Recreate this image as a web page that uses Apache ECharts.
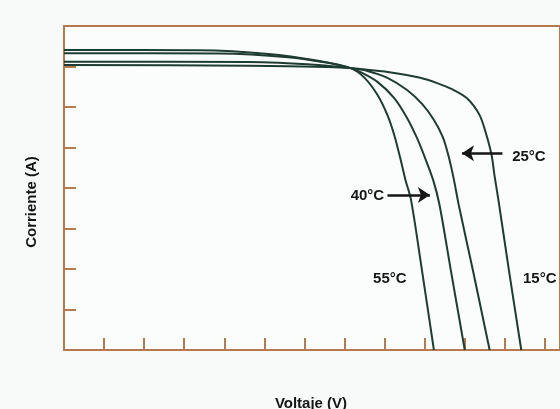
<!DOCTYPE html>
<html>
<head>
<meta charset="utf-8">
<script src="https://cdn.jsdelivr.net/npm/echarts@6/dist/echarts.min.js"></script>
<style>
html,body{margin:0;padding:0;background:#f7faf9;}
#chart{width:560px;height:409px;}
</style>
</head>
<body>
<div id="chart"></div>
<script>
// Temperature series (voltage V, current A)
const temps = ['55°C', '40°C', '25°C', '15°C'];
const curve55 = [[0,7.41],[3.37,7.40],[5.10,7.31],[6.34,7.14],[7.15,6.96],[7.50,6.72],[7.82,6.30],[8.07,5.80],[8.24,5.31],[8.39,4.74],[8.52,4.20],[8.66,3.70],[8.93,1.98],[9.23,0]];
const curve40 = [[0,7.33],[3.86,7.32],[5.59,7.23],[6.58,7.09],[7.15,6.96],[7.40,6.86],[7.82,6.62],[8.24,6.22],[8.56,5.73],[8.81,5.23],[9.01,4.74],[9.21,4.20],[9.37,3.58],[9.65,1.98],[10.0,0]];
const curve25 = [[0,7.12],[4.60,7.11],[6.34,7.04],[7.15,6.96],[7.57,6.89],[8.07,6.72],[8.56,6.42],[8.94,6.07],[9.23,5.68],[9.45,5.26],[9.60,4.77],[9.73,4.20],[9.85,3.58],[10.20,1.98],[10.62,0]];
const curve15 = [[0,7.04],[4.60,7.02],[6.58,6.99],[7.15,6.96],[8.24,6.84],[8.89,6.72],[9.31,6.59],[9.68,6.44],[10.05,6.22],[10.37,5.80],[10.54,5.31],[10.67,4.81],[10.74,4.32],[10.84,3.70],[11.10,1.98],[11.41,0]];
const xAxisName = 'Voltaje (V)';
const yAxisName = 'Corriente (A)';

const brown = '#b7794e';
const lineColor = '#1f3c33';
const font = 'Liberation Sans, Arial, sans-serif';

function labelPoint(text, coord) {
  return {
    coord: coord, symbol: 'circle', symbolSize: 0,
    itemStyle: {color: 'rgba(0,0,0,0)'},
    label: {show: true, position: 'inside', formatter: text, color: '#151515',
            fontWeight: 'bold', fontSize: 15, fontFamily: font}
  };
}
function arrow(from, to) {
  return [{coord: from}, {coord: to}];
}
const arrowStyle = {
  silent: true, symbol: ['none', 'arrow'], symbolSize: 12,
  lineStyle: {color: '#151515', width: 2.5, type: 'solid'},
  label: {show: false}, animation: false
};

const curves = [curve55, curve40, curve25, curve15];
const labelCoords = [[8.13,1.75],[7.57,3.80],[11.6,4.77],[11.87,1.75]];
const arrows = [null, arrow([8.07,3.83],[9.13,3.83]), arrow([10.94,4.86],[9.93,4.86]), null];

const series = curves.map((c, i) => {
  const s = {
    name: temps[i], type: 'line', data: c, showSymbol: false,
    smooth: 0.3,
    lineStyle: {color: lineColor, width: 2}, itemStyle: {color: lineColor},
    animation: false,
    markPoint: {silent: true, animation: false, data: [labelPoint(temps[i], labelCoords[i])]}
  };
  if (arrows[i]) s.markLine = Object.assign({data: [arrows[i]]}, arrowStyle);
  return s;
});

const chart = echarts.init(document.getElementById('chart'));
chart.setOption({
  backgroundColor: '#f7faf9',
  animation: false,
  grid: {left: 64, top: 26, right: -4, bottom: 59, show: true,
         backgroundColor: '#fbfdfc', borderColor: brown, borderWidth: 2},
  xAxis: {
    type: 'value', min: 0, max: 12.376, interval: 1,
    axisLine: {lineStyle: {color: brown, width: 2}},
    axisTick: {show: true, inside: true, length: 12, lineStyle: {color: brown, width: 2}},
    axisLabel: {show: false}, splitLine: {show: false}
  },
  yAxis: {
    type: 'value', min: 0, max: 8, interval: 1,
    axisLine: {show: true, lineStyle: {color: brown, width: 2}},
    axisTick: {show: true, inside: true, length: 12, lineStyle: {color: brown, width: 2}},
    axisLabel: {show: false}, splitLine: {show: false}
  },
  graphic: [
    {type: 'text', x: 311, y: 404,
     style: {text: xAxisName, font: 'bold 15px ' + font, fill: '#151515', align: 'center', verticalAlign: 'middle'}},
    {type: 'text', x: 32, y: 202, rotation: Math.PI / 2,
     style: {text: yAxisName, font: 'bold 15px ' + font, fill: '#151515', align: 'center', verticalAlign: 'middle'}}
  ],
  series: series
});
</script>
</body>
</html>
